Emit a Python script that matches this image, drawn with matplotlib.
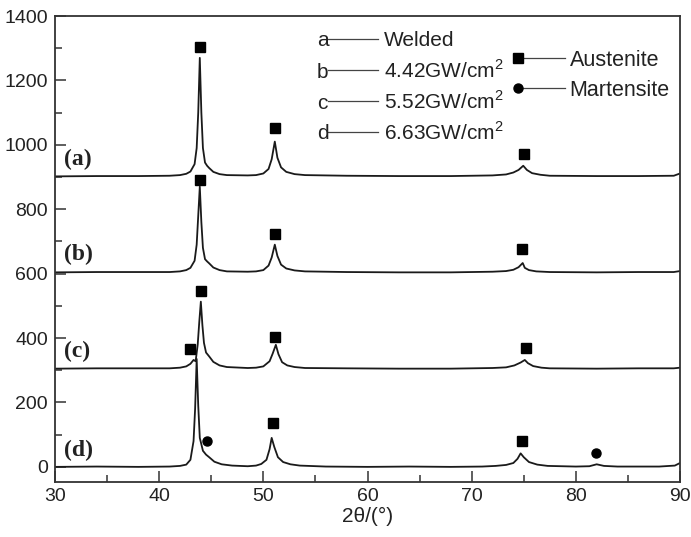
import matplotlib
matplotlib.use("Agg")
import matplotlib.pyplot as plt

plt.rcParams['font.family'] = ['Liberation Sans', 'DejaVu Sans']
plt.rcParams['mathtext.fontset'] = 'custom'
plt.rcParams['mathtext.rm'] = 'Liberation Sans'

# XRD traces (2theta, intensity incl. vertical offset)
x_a = [30, 34, 38, 41, 42, 42.6, 43.0, 43.4, 43.6, 43.75, 43.9, 44.05, 44.2,
       44.4, 44.6, 44.8, 45.2, 45.8, 46.5, 48.5, 49.3, 50.0, 50.5, 50.8, 51.1, 51.35, 51.7, 52.2,
       53, 54, 58, 63, 68, 72, 73.3, 74.0, 74.5, 74.95,
       75.3, 75.8, 76.6, 77.5, 82, 86, 89.4, 90]
y_a = [902, 903, 903, 904, 906, 910, 917, 940, 990, 1100, 1270, 1100, 990,
       945, 935, 928, 916, 909, 906, 905, 906, 911, 925, 955, 1010, 960, 930, 916,
       909, 906, 904, 903, 903, 905, 908, 914, 922, 935, 922, 912, 907, 904,
       903, 903, 904, 911]

x_b = [30, 34, 38, 41, 42, 42.6, 43.0, 43.4, 43.6, 43.75, 43.9, 44.05, 44.2,
       44.4, 44.6, 44.8, 45.2, 45.8, 46.5, 48.5, 49.3, 50.0, 50.5, 50.8, 51.1, 51.35, 51.7, 52.2,
       53, 54, 58, 63, 68, 72, 73.3, 74.0, 74.5, 74.9,
       75.1, 75.5, 76.2, 77.5, 82, 86, 89.4, 90]
y_b = [604, 605, 605, 605, 607, 611, 618, 640, 690, 780, 870, 760, 680,
       645, 638, 632, 619, 611, 607, 606, 607, 611, 625, 650, 690, 655, 628, 616,
       610, 607, 605, 604, 604, 606, 608, 612, 620, 633, 618, 611, 607, 605,
       604, 605, 605, 608]

x_c = [30, 34, 38, 41, 42, 42.6, 43.0, 43.3, 43.5, 43.7, 43.85, 44.0, 44.15,
       44.3, 44.5, 44.8, 45.2, 45.8, 46.5, 48.5, 49.3, 50.0, 50.6, 50.9, 51.2, 51.45, 51.8, 52.3,
       53, 54, 58, 63, 68, 72, 73.3, 74.1, 74.7, 75.1,
       75.4, 75.9, 76.7, 77.5, 82, 86, 89.4, 90]
y_c = [305, 306, 306, 306, 308, 312, 320, 332, 328, 380, 450, 513, 440,
       385, 355, 343, 326, 315, 310, 307, 308, 312, 328, 352, 379, 350, 325, 315,
       310, 307, 306, 305, 305, 307, 309, 315, 324, 332, 322, 313, 308, 306,
       305, 306, 306, 308]

x_d = [30, 34, 38, 41, 42, 42.6, 43.0, 43.3, 43.45, 43.6, 43.75, 43.9, 44.2,
       44.5, 44.8, 45.3, 46, 47, 48.5, 49.3, 49.8, 50.3, 50.6, 50.8, 51.05, 51.4, 51.9, 52.6, 53.5,
       56, 60, 64, 68, 71, 72.3, 73.3, 74.0, 74.4, 74.7, 75.0, 75.5,
       76.3, 77.3, 80, 81.3, 82.0, 82.7, 84, 88, 89.5, 90]
y_d = [0, 1, 0, 1, 3, 7, 22, 80, 180, 335, 190, 90, 50,
       38, 30, 16, 8, 4, 2, 4, 9, 22, 55, 90, 62, 30, 15, 8, 4,
       1, 0, 1, 0, 1, 3, 6, 12, 25, 42, 30, 15,
       7, 3, 1, 2, 8, 3, 1, 1, 4, 12]

# phase markers
aus_x = [43.9, 51.1, 75.0, 43.9, 51.1, 74.8, 44.0, 51.1, 75.2, 42.95, 50.9, 74.8]
aus_y = [1304, 1052, 972, 891, 722, 677, 545, 402, 369, 367, 137, 81]
mar_x = [44.6, 81.95]
mar_y = [80, 42]

trace_labels = ['(a)', '(b)', '(c)', '(d)']
trace_label_y = [955, 660, 358, 50]
legend_keys = ['a', 'b', 'c', 'd']
legend_names = ['Welded', '4.42GW/cm$^{2}$', '5.52GW/cm$^{2}$', '6.63GW/cm$^{2}$']
legend_y = [1329, 1232, 1135, 1040]

fig = plt.figure(figsize=(6.91, 5.37), dpi=100)
ax = fig.add_axes([0.0796, 0.1024, 0.9045, 0.8678])

lc = '#1a1a1a'
for xs, ys in [(x_a, y_a), (x_b, y_b), (x_c, y_c), (x_d, y_d)]:
    ax.plot(xs, ys, color=lc, lw=1.3)

ax.plot(aus_x, aus_y, ls='none', marker='s', ms=7, color='black')
ax.plot(mar_x, mar_y, ls='none', marker='o', ms=6.5, color='black')

for lab, yy in zip(trace_labels, trace_label_y):
    ax.text(30.9, yy, lab, family=['Liberation Serif', 'DejaVu Serif'], fontweight='bold',
            fontsize=17, va='center', ha='left', color='#222222')

# legend drawn by hand
base = 23
for k, nm, yy in zip(legend_keys, legend_names, legend_y):
    ax.text(55.7, yy - base, k, fontsize=15, va='baseline', ha='center', color='#222222')
    ax.plot([56.2, 61.0], [yy, yy], color='#444444', lw=0.9)
    ax.text(61.6, yy - base, nm, fontsize=15, va='baseline', ha='left', color='#222222')

ax.plot([74.8, 79.0], [1269, 1269], color='#444444', lw=0.9)
ax.plot([74.45], [1269], marker='s', ms=7, color='black')
ax.text(79.4, 1269 - base, 'Austenite', fontsize=15.5, va='baseline', ha='left', color='#222222')
ax.plot([74.8, 79.0], [1176, 1176], color='#444444', lw=0.9)
ax.plot([74.45], [1176], marker='o', ms=6.5, color='black')
ax.text(79.4, 1176 - base, 'Martensite', fontsize=15.5, va='baseline', ha='left', color='#222222')

ax.set_xlim(30, 90)
ax.set_ylim(-47, 1400)
ax.set_xticks(range(30, 91, 10))
ax.set_xticks(range(35, 90, 10), minor=True)
ax.set_yticks(range(0, 1401, 200))
ax.set_yticks(range(100, 1400, 200), minor=True)
ax.tick_params(which='both', direction='in', top=False, right=False, labelsize=14,
               color='#333333', labelcolor='#222222')
ax.tick_params(which='major', length=8, width=1.1)
ax.tick_params(which='minor', length=5, width=1.1)
ax.tick_params(axis='x', pad=4)
ax.tick_params(axis='y', pad=5)
for side in ['left', 'top', 'right', 'bottom']:
    ax.spines[side].set_linewidth(1.3)
    ax.spines[side].set_color('#333333')

ax.set_xlabel('2θ/(°)', fontsize=15, color='#222222', labelpad=2)

fig.savefig('out.png', dpi=100)
